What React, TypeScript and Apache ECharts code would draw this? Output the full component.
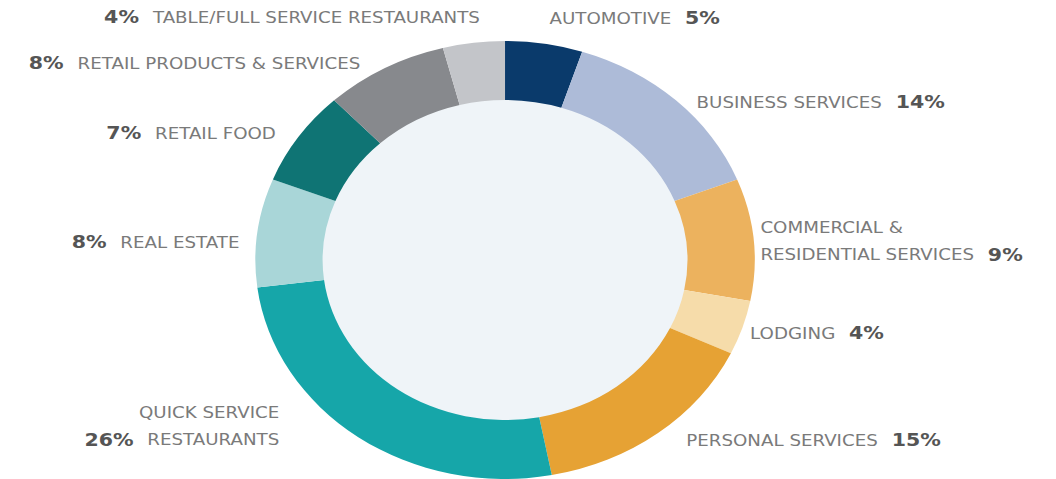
import React, { useEffect, useRef } from "react";
import * as echarts from "echarts";

const categories = [
  "AUTOMOTIVE",
  "BUSINESS SERVICES",
  "COMMERCIAL &\nRESIDENTIAL SERVICES",
  "LODGING",
  "PERSONAL SERVICES",
  "QUICK SERVICE\nRESTAURANTS",
  "REAL ESTATE",
  "RETAIL FOOD",
  "RETAIL PRODUCTS & SERVICES",
  "TABLE/FULL SERVICE RESTAURANTS",
];
const values = [5, 14, 9, 4, 15, 26, 8, 7, 8, 4];
const colors = [
  "#0a3a6b",
  "#adbbd8",
  "#ecb25e",
  "#f6dcaa",
  "#e6a234",
  "#16a6a9",
  "#a9d6d8",
  "#0f7474",
  "#87898d",
  "#c3c5c9",
];

// label anchors (unscaled px) and side
const labelAnchors = [
  { x: 482, y: 18, side: "right" },
  { x: 611, y: 102, side: "right" },
  { x: 667, y: 241, side: "right" },
  { x: 658, y: 333, side: "right" },
  { x: 602, y: 440, side: "right" },
  { x: 245, y: 426, side: "left" },
  { x: 210, y: 242, side: "left" },
  { x: 242, y: 133, side: "left" },
  { x: 316, y: 63, side: "left" },
  { x: 421, y: 17, side: "left" },
];

const SX = 1.14;
const W = Math.round(1056 / SX);

export default function App() {
  const ref = useRef<HTMLDivElement>(null);
  useEffect(() => {
    document.body.style.margin = "0";
    const chart = echarts.init(ref.current!, null, { renderer: "svg" });
    const font = "DejaVu Sans";
    chart.setOption({
      animation: false,
      backgroundColor: "#ffffff",
      series: [
        {
          type: "pie",
          silent: true,
          center: [443, 260],
          radius: [0, 161],
          label: { show: false },
          labelLine: { show: false },
          itemStyle: { color: "#eff4f8" },
          data: [{ value: 1, name: "hole" }],
          z: 1,
        },
        {
          type: "pie",
          center: [443, 260],
          radius: [160, 219],
          startAngle: 90,
          clockwise: true,
          z: 2,
          labelLine: { show: false },
          label: {
            show: true,
            position: "outside",
            overflow: "none",
            formatter: (p: any) => {
              const i = p.dataIndex;
              const a = labelAnchors[i];
              const lines = categories[i].split("\n");
              const pct = values[i] + "%";
              const head = lines.slice(0, -1).map((l) => `{n|${l}}`);
              const lastName = `{n|${lines[lines.length - 1]}}`;
              const last =
                a.side === "right" ? `${lastName}{pr|${pct}}` : `{pl|${pct}}${lastName}`;
              return [...head, last].join("\n");
            },
            rich: {
              n: {
                fontFamily: font,
                fontSize: 16,
                color: "#7a7a7a",
                lineHeight: 27,
              },
              pr: {
                fontFamily: font,
                fontSize: 18,
                fontWeight: "bold",
                color: "#555555",
                lineHeight: 27,
                padding: [0, 0, 0, 12],
              },
              pl: {
                fontFamily: font,
                fontSize: 18,
                fontWeight: "bold",
                color: "#555555",
                lineHeight: 27,
                padding: [0, 12, 0, 0],
              },
            },
          },
          labelLayout: (params: any) => {
            const a = labelAnchors[params.dataIndex];
            return {
              x: a.x,
              y: a.y,
              align: a.side === "right" ? "left" : "right",
              verticalAlign: "middle",
            };
          },
          data: categories.map((c, i) => ({
            name: c,
            value: values[i],
            itemStyle: { color: colors[i] },
            label: { align: labelAnchors[i].side === "right" ? "left" : "right" },
          })),
        },
      ],
    });
    return () => chart.dispose();
  }, []);
  return (
    <div style={{ width: 1056, height: 479, overflow: "hidden" }}>
      <div
        ref={ref}
        style={{
          width: W,
          height: 479,
          transform: `scaleX(${SX})`,
          transformOrigin: "0 0",
        }}
      />
    </div>
  );
}
